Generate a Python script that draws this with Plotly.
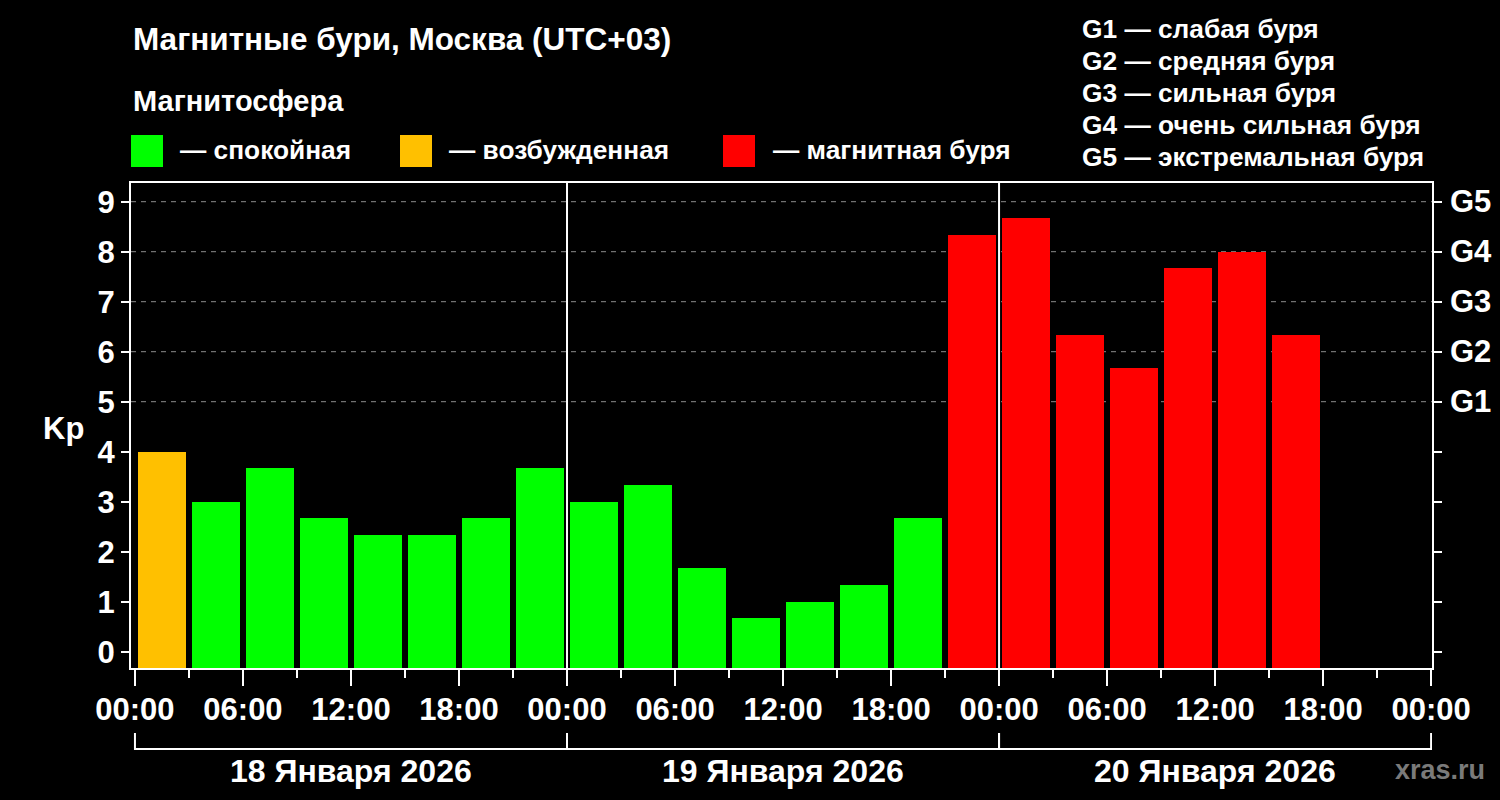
import plotly.graph_objects as go

# ---------------- data ----------------
days = ["18 Января 2026", "19 Января 2026", "20 Января 2026"]
hour_ticks = [0, 6, 12, 18, 24, 30, 36, 42, 48, 54, 60, 66, 72]
hour_labels = ["00:00", "06:00", "12:00", "18:00"] * 3 + ["00:00"]
kp = [4.0, 3.0, 3.67, 2.67, 2.33, 2.33, 2.67, 3.67,
      3.0, 3.33, 1.67, 0.67, 1.0, 1.33, 2.67, 8.33,
      8.67, 6.33, 5.67, 7.67, 8.0, 6.33, None, None]
g_levels = [5, 6, 7, 8, 9]
g_labels = ["G1", "G2", "G3", "G4", "G5"]
g_desc = ["G1 — слабая буря", "G2 — средняя буря", "G3 — сильная буря",
          "G4 — очень сильная буря", "G5 — экстремальная буря"]
legend_names = ["— спокойная", "— возбужденная", "— магнитная буря"]
legend_colors = ["#00ff00", "#ffc000", "#ff0000"]

# ---------------- layout geometry ----------------
W, H = 1500, 800
L, R, T, B = 131, 68, 183, 132
PW, PH = W - L - R, H - T - B
X_RANGE = [-0.22, 72.05]
Y_RANGE = [-0.326, 9.374]
FONT = "Liberation Sans, Arial, sans-serif"


def px(x):
    return (x - L) / PW


def py(y):
    return (H - B - y) / PH


def color_for(v):
    if v is None:
        return legend_colors[0]
    if v < 4:
        return legend_colors[0]
    if v < 5:
        return legend_colors[1]
    return legend_colors[2]


def f(size, color="white"):
    return dict(family=FONT, size=size, color=color, weight="bold")


x_centers = [1.5 + 3 * i for i in range(len(kp))]
base = Y_RANGE[0]
heights = [None if v is None else v - base for v in kp]

fig = go.Figure()
fig.add_trace(go.Bar(
    x=x_centers, y=heights, base=base, width=2.67,
    marker=dict(color=[color_for(v) for v in kp], line=dict(width=0)),
    customdata=kp, hovertemplate="Kp %{customdata}<extra></extra>",
    showlegend=False,
))

shapes = []
for g in g_levels:
    shapes.append(dict(type="line", xref="paper", yref="y", x0=0, x1=1, y0=g, y1=g,
                       line=dict(color="#8c8c8c", width=1, dash="5px,5px"), layer="below"))
for d in range(1, len(days)):
    shapes.append(dict(type="line", xref="x", yref="paper", x0=24 * d, x1=24 * d,
                       y0=0, y1=1.004, line=dict(color="white", width=2)))
for d in range(len(days)):
    x0, x1 = 24 * d, 24 * (d + 1)
    shapes.append(dict(type="line", xref="x", yref="paper", x0=x0, x1=x1,
                       y0=py(749), y1=py(749), line=dict(color="white", width=2)))
    for xx in (x0, x1):
        shapes.append(dict(type="line", xref="x", yref="paper", x0=xx, x1=xx,
                           y0=py(733), y1=py(750), line=dict(color="white", width=2)))
sq_x = [131, 400, 723]
for sx, c in zip(sq_x, legend_colors):
    shapes.append(dict(type="rect", xref="paper", yref="paper", x0=px(sx), x1=px(sx + 32),
                       y0=py(167), y1=py(135), fillcolor=c, line=dict(width=0)))

ann = []
ann.append(dict(text="Магнитные бури, Москва (UTC+03)", x=px(131), y=py(39), xref="paper", yref="paper",
                xanchor="left", yanchor="middle", showarrow=False, font=f(31.5)))
ann.append(dict(text="Магнитосфера", x=px(131), y=py(101), xref="paper", yref="paper",
                xanchor="left", yanchor="middle", showarrow=False, font=f(29)))
txt_x = [178, 447, 771]
for tx, name in zip(txt_x, legend_names):
    ann.append(dict(text=name, x=px(tx), y=py(150), xref="paper", yref="paper",
                    xanchor="left", yanchor="middle", showarrow=False, font=f(26.3)))
for i, s in enumerate(g_desc):
    ann.append(dict(text=s, x=px(1080), y=py(29 + 32 * i), xref="paper", yref="paper",
                    xanchor="left", yanchor="middle", showarrow=False, font=f(26.3)))
for g, lab in zip(g_levels, g_labels):
    ann.append(dict(text=lab, x=px(1448), y=g, xref="paper", yref="y",
                    xanchor="left", yanchor="middle", showarrow=False, font=f(31)))
for d, name in enumerate(days):
    ann.append(dict(text=name, x=24 * d + 12, y=py(771), xref="x", yref="paper",
                    xanchor="center", yanchor="middle", showarrow=False, font=f(32)))
ann.append(dict(text="Kp", x=px(63), y=py(428), xref="paper", yref="paper",
                xanchor="center", yanchor="middle", showarrow=False, font=f(31)))
ann.append(dict(text="xras.ru", x=px(1440), y=py(770), xref="paper", yref="paper",
                xanchor="center", yanchor="middle", showarrow=False, font=f(27, "#7a7a7a")))

fig.update_layout(
    width=W, height=H,
    margin=dict(l=L, r=R, t=T, b=B, pad=0),
    paper_bgcolor="black", plot_bgcolor="black",
    font=dict(family=FONT, color="white"),
    shapes=shapes, annotations=ann,
    bargap=0,
    xaxis=dict(range=X_RANGE, tickvals=hour_ticks, ticktext=hour_labels,
               ticks="outside", ticklen=16, tickwidth=2, tickcolor="white",
               ticklabelstandoff=-3,
               minor=dict(dtick=3, tick0=0, ticks="outside", ticklen=8, tickwidth=2, tickcolor="white"),
               showline=True, linecolor="white", linewidth=2, mirror=True,
               showgrid=False, zeroline=False, fixedrange=True,
               tickfont=f(31)),
    yaxis=dict(range=Y_RANGE, tickvals=list(range(10)),
               ticks="outside", ticklen=8, tickwidth=2, tickcolor="white",
               showline=True, linecolor="white", linewidth=2, mirror="ticks",
               showgrid=False, zeroline=False, fixedrange=True,
               tickfont=f(31)),
)

fig.write_html("out.html", config={"displayModeBar": False},
               post_script="document.body.style.margin='0';document.body.style.background='black';")
